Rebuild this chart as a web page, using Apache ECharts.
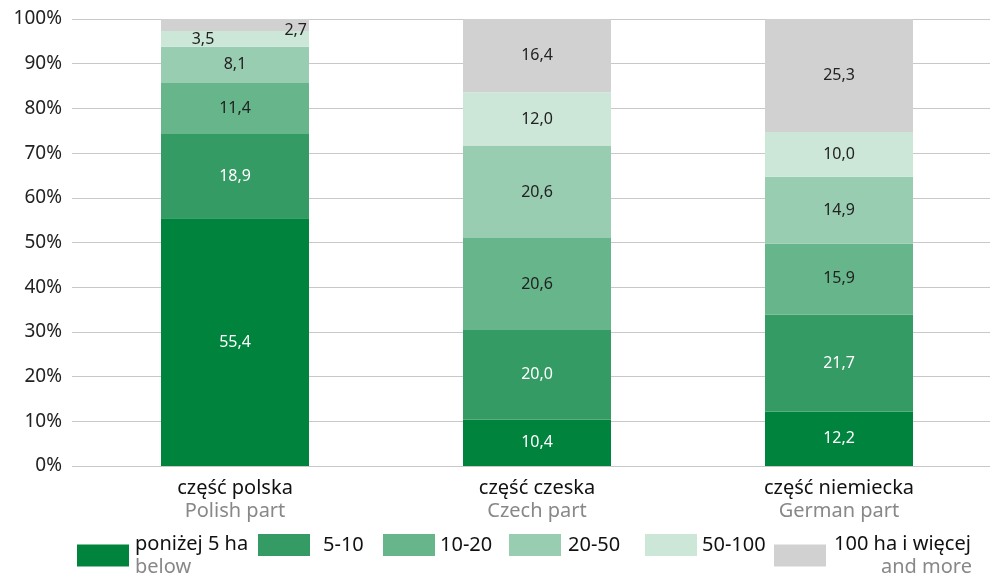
<!DOCTYPE html>
<html>
<head>
<meta charset="utf-8">
<script src="https://cdn.jsdelivr.net/npm/echarts@6/dist/echarts.min.js"></script>
<style>
  html, body { margin: 0; padding: 0; background: #fff; }
  #chart { width: 993px; height: 576px; }
</style>
</head>
<body>
<div id="chart"></div>
<script>
// kategorie (PL / EN)
const categoriesPl = ['część polska', 'część czeska', 'część niemiecka'];
const categoriesEn = ['Polish part', 'Czech part', 'German part'];

// grupy obszarowe
const groupNames = ['poniżej 5 ha', '5-10', '10-20', '20-50', '50-100', '100 ha i więcej'];
const groupColors = ['#00843d', '#339b63', '#66b58b', '#99cdb1', '#cce6d8', '#d1d1d1'];
const labelColors = ['#fff', '#fff', '#222', '#222', '#222', '#222'];

// wartości w %
const below5 = [55.4, 10.4, 12.2];
const s5to10 = [18.9, 20.0, 21.7];
const s10to20 = [11.4, 20.6, 15.9];
const s20to50 = [8.1, 20.6, 14.9];
const s50to100 = [3.5, 12.0, 10.0];
const s100plus = [2.7, 16.4, 25.3];
const seriesValues = [below5, s5to10, s10to20, s20to50, s50to100, s100plus];

const yTicks = [0, 10, 20, 30, 40, 50, 60, 70, 80, 90, 100];

const FONT = '"Noto Sans", sans-serif';
const fmt = v => v.toFixed(1).replace('.', ',');

// małe segmenty w polskiej kolumnie mają przesunięte etykiety
const labelTweaks = {
  '4-0': { offset: [-32, 1] },
  '5-0': { position: 'insideRight', distance: 2, offset: [0, 5] }
};

const chart = echarts.init(document.getElementById('chart'));

const series = seriesValues.map((vals, si) => ({
  name: groupNames[si],
  type: 'bar',
  stack: 'total',
  xAxisIndex: 1,
  yAxisIndex: 1,
  barWidth: 148,
  itemStyle: { color: groupColors[si] },
  label: {
    show: true,
    position: 'inside',
    color: labelColors[si],
    fontFamily: FONT,
    fontSize: 16,
    formatter: p => fmt(p.value)
  },
  data: vals.map((v, ci) => {
    const t = labelTweaks[si + '-' + ci];
    return t ? { value: v, label: t } : v;
  })
}));

// osobna legenda dla każdej pozycji, żeby ustawić ją dokładnie
const legendLeft = [77, 258, 383, 509, 645, 774];
const legendPad = [1, 8, 0, 2, 0, 3];
const legends = groupNames.map((n, i) => ({
  data: [{ name: n, icon: 'rect' }],
  left: legendLeft[i],
  top: 534,
  padding: 0,
  itemWidth: 52,
  itemHeight: 22,
  itemGap: 0,
  selectedMode: false,
  formatter: name => {
    if (i === 0) return '{a|' + name + '}\n{b|below}';
    if (i === 5) return '{w|' + name + '}\n{c|and more}';
    return '{s|' + name + '}';
  },
  textStyle: {
    fontFamily: FONT,
    fontSize: 20,
    padding: [0, 0, 0, legendPad[i]],
    rich: {
      a: { fontFamily: FONT, fontSize: 20, color: '#111', lineHeight: 23 },
      b: { fontFamily: FONT, fontSize: 20, color: '#888', lineHeight: 23 },
      w: { fontFamily: FONT, fontSize: 20, color: '#111', lineHeight: 23, width: 138 },
      c: { fontFamily: FONT, fontSize: 20, color: '#888', lineHeight: 23, align: 'right', width: 138 },
      s: { fontFamily: FONT, fontSize: 20, color: '#111' }
    }
  }
}));

chart.setOption({
  animation: false,
  // siatka 0: tylko linie pomocnicze i opisy osi Y; siatka 1: słupki
  grid: [
    { left: 72, right: 3, top: 19, bottom: 110 },
    { left: 84, right: 3, top: 19, bottom: 110 }
  ],
  legend: legends,
  xAxis: [
    { type: 'category', gridIndex: 0, data: categoriesPl, show: false },
    {
      type: 'category',
      gridIndex: 1,
      data: categoriesPl,
      axisLine: { show: false },
      axisTick: { show: false },
      axisLabel: {
        margin: 11,
        formatter: (v, idx) => '{a|' + v + '}\n{b|' + categoriesEn[idx] + '}',
        rich: {
          a: { fontFamily: FONT, fontSize: 20, color: '#111', lineHeight: 23 },
          b: { fontFamily: FONT, fontSize: 20, color: '#888', lineHeight: 23 }
        }
      }
    }
  ],
  yAxis: [
    {
      type: 'value',
      gridIndex: 0,
      min: yTicks[0],
      max: yTicks[yTicks.length - 1],
      interval: 10,
      axisLabel: {
        formatter: '{value}%',
        fontFamily: FONT,
        fontSize: 19,
        color: '#222',
        margin: 10
      },
      splitLine: { lineStyle: { color: '#c8c8c8', width: 1 } }
    },
    {
      type: 'value',
      gridIndex: 1,
      min: yTicks[0],
      max: yTicks[yTicks.length - 1],
      interval: 10,
      axisLabel: { show: false },
      splitLine: { show: false }
    }
  ],
  series: series
});
</script>
</body>
</html>
